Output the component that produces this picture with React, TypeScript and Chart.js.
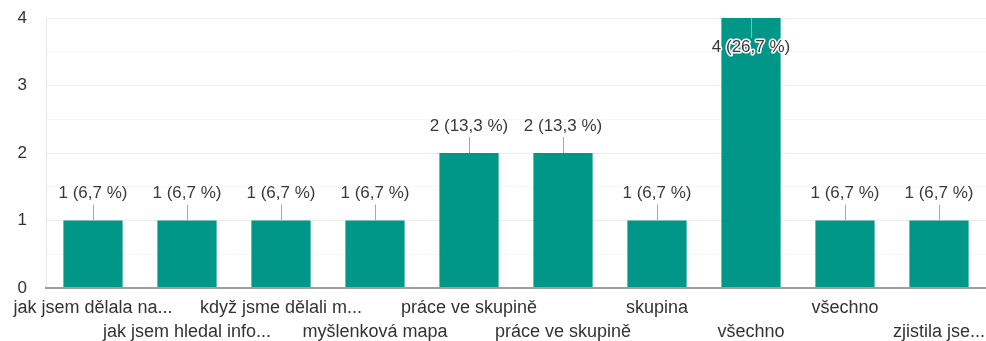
import React, { useEffect, useRef } from "react";
import { Chart, registerables } from "chart.js";

Chart.register(...registerables);

// Survey answers (shortened) and response counts
const categories: string[] = [
  "jak jsem dělala na...",
  "jak jsem hledal info...",
  "když jsme dělali m...",
  "myšlenková mapa",
  "práce ve skupině",
  "práce ve skupině",
  "skupina",
  "všechno",
  "všechno",
  "zjistila jse...",
];
const counts: number[] = [1, 1, 1, 1, 2, 2, 1, 4, 1, 1];
const yTicks: number[] = [0, 1, 2, 3, 4];

const TEXT_FONT = "Arial, 'Liberation Sans', sans-serif";
const BAR_COLOR = "#009688";

const total = counts.reduce((a, b) => a + b, 0);
const valueLabel = (v: number) =>
  `${v} (${((v / total) * 100).toFixed(1).replace(".", ",")} %)`;

// Alternate the category labels between two rows so they don't collide
const tickLabels = categories.map((c, i) => (i % 2 === 0 ? [c, ""] : ["", c]));

const valueLabelsPlugin = {
  id: "valueLabels",
  afterDatasetsDraw(chart: any) {
    const { ctx, chartArea } = chart;
    const meta = chart.getDatasetMeta(0);
    ctx.save();
    ctx.font = `17px ${TEXT_FONT}`;
    ctx.textAlign = "center";
    ctx.textBaseline = "middle";
    meta.data.forEach((bar: any, i: number) => {
      const v = counts[i];
      const top = bar.y;
      const x = Math.round(bar.x) + 0.5;
      const inside = top - 40 < chartArea.top;
      const lineEnd = inside ? top + 20 : top - 16;
      const textY = inside ? top + 29 : top - 27;
      ctx.strokeStyle = "#a8a8a8";
      ctx.lineWidth = 1;
      ctx.beginPath();
      ctx.moveTo(x, top);
      ctx.lineTo(x, lineEnd);
      ctx.stroke();
      const text = valueLabel(v);
      ctx.lineJoin = "round";
      ctx.strokeStyle = "#ffffff";
      ctx.lineWidth = 3;
      ctx.strokeText(text, bar.x, textY);
      ctx.fillStyle = "#3a3a3a";
      ctx.fillText(text, bar.x, textY);
    });
    ctx.restore();
  },
};

export default function App() {
  const canvasRef = useRef<HTMLCanvasElement | null>(null);

  useEffect(() => {
    if (!canvasRef.current) return;
    const chart = new Chart(canvasRef.current, {
      type: "bar",
      data: {
        labels: tickLabels,
        datasets: [
          {
            data: counts,
            backgroundColor: BAR_COLOR,
            borderWidth: 0,
            categoryPercentage: 1,
            barPercentage: 0.63,
          },
        ],
      },
      plugins: [valueLabelsPlugin],
      options: {
        responsive: false,
        animation: false,
        layout: { padding: { top: 18, right: 0, left: 0, bottom: 0 } },
        plugins: {
          legend: { display: false },
          tooltip: { enabled: false },
        },
        scales: {
          x: {
            offset: true,
            grid: { display: false, drawTicks: false },
            border: { display: true, color: "#9e9e9e", width: 2, z: 1 },
            ticks: {
              autoSkip: false,
              maxRotation: 0,
              minRotation: 0,
              padding: 8,
              color: "#333333",
              font: { family: TEXT_FONT, size: 18, lineHeight: "24px" },
            },
            afterFit: (s: any) => {
              s.height = 53;
              s.paddingLeft = 0;
              s.paddingRight = 0;
            },
          },
          y: {
            min: yTicks[0],
            max: yTicks[yTicks.length - 1],
            afterBuildTicks: (s: any) => {
              const t: { value: number }[] = [];
              for (let i = 0; i < yTicks.length; i++) {
                t.push({ value: yTicks[i] });
                if (i < yTicks.length - 1) t.push({ value: (yTicks[i] + yTicks[i + 1]) / 2 });
              }
              s.ticks = t;
            },
            grid: {
              drawTicks: false,
              color: (c: any) =>
                c.tick && Number.isInteger(c.tick.value) ? "#ebebeb" : "#f6f6f6",
              lineWidth: 1,
            },
            border: { display: true, color: "#e8e8e8", width: 1 },
            ticks: {
              padding: 19,
              color: "#333333",
              font: { family: TEXT_FONT, size: 17 },
              callback: (v: any) => (Number.isInteger(v) ? String(v) : ""),
            },
            afterFit: (s: any) => {
              s.width = 46;
              s.paddingTop = 0;
              s.paddingBottom = 0;
            },
          },
        },
      },
    });
    return () => chart.destroy();
  }, []);

  return (
    <div style={{ position: "fixed", left: 0, top: 0, width: 986, height: 341, background: "#fff" }}>
      <canvas ref={canvasRef} width={986} height={341} />
    </div>
  );
}
